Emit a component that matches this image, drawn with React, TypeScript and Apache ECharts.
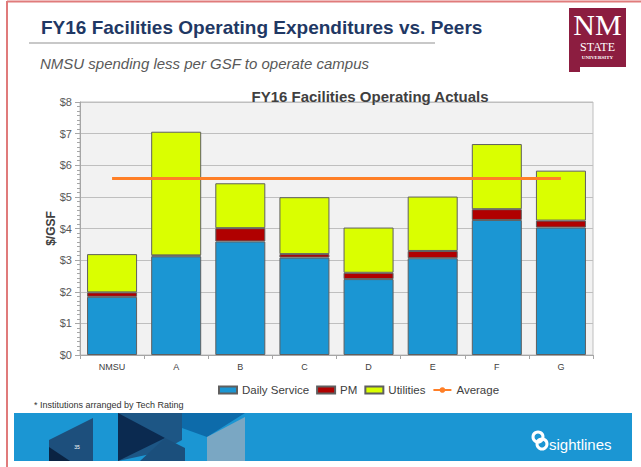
import React, { useEffect, useRef } from "react";
import * as echarts from "echarts";

const categories = ["NMSU", "A", "B", "C", "D", "E", "F", "G"];
const dailyService = [1.84, 3.12, 3.59, 3.08, 2.4, 3.06, 4.27, 4.03];
const pm = [0.14, 0.03, 0.42, 0.11, 0.2, 0.23, 0.34, 0.22];
const utilities = [1.21, 3.91, 1.42, 1.8, 1.43, 1.72, 2.06, 1.58];
const averageValue = 5.58;
const average = categories.map(() => averageValue);

const FONT = "'Liberation Sans', Arial, sans-serif";
const SERIF = "'Liberation Serif', 'DejaVu Serif', serif";

export default function App() {
  const ref = useRef<HTMLDivElement>(null);
  useEffect(() => {
    if (!ref.current) return;
    const chart = echarts.init(ref.current, undefined, { renderer: "svg" });
    const barItem = (color: string) => ({
      color,
      borderColor: "#5f5f5f",
      borderWidth: 1,
    });
    chart.setOption({
      animation: false,
      backgroundColor: "#ffffff",
      textStyle: { fontFamily: FONT },
      title: [
        {
          text: "FY16 Facilities Operating Expenditures vs. Peers",
          left: 36,
          top: 13,
          textStyle: { fontSize: 19, fontWeight: "bold", color: "#1F3864", fontFamily: FONT },
        },
        {
          text: "NMSU spending less per GSF to operate campus",
          left: 35,
          top: 51,
          textStyle: { fontSize: 15, fontWeight: "normal", fontStyle: "italic", color: "#595959", fontFamily: FONT },
        },
        {
          text: "FY16 Facilities Operating Actuals",
          left: 365,
          textAlign: "center",
          top: 84,
          textStyle: { fontSize: 15, fontWeight: "bold", color: "#404040", fontFamily: FONT },
        },
      ],
      legend: {
        left: 213,
        top: 379,
        itemWidth: 18,
        itemHeight: 7,
        itemGap: 7,
        textStyle: { fontSize: 11.5, color: "#404040", fontFamily: FONT },
        data: [
          { name: "Daily Service", icon: "rect" },
          { name: "PM", icon: "rect" },
          { name: "Utilities", icon: "rect" },
          { name: "Average" },
        ],
      },
      grid: {
        left: 80,
        top: 102,
        width: 513,
        height: 253,
        show: true,
        backgroundColor: "#F2F2F2",
        borderColor: "#BFBFBF",
        borderWidth: 1,
      },
      xAxis: {
        type: "category",
        data: categories,
        axisLine: { show: true, lineStyle: { color: "#A6A6A6", width: 1 } },
        axisTick: { show: true, length: 4, interval: 0, lineStyle: { color: "#A6A6A6" } },
        axisLabel: { fontSize: 9, color: "#404040", margin: 7, fontFamily: FONT },
      },
      yAxis: {
        type: "value",
        min: 0,
        max: 8,
        interval: 1,
        name: "$/GSF",
        nameLocation: "middle",
        nameGap: 23,
        nameMoveOverlap: false,
        nameTextStyle: { fontSize: 12, fontWeight: "bold", color: "#404040", fontFamily: FONT },
        axisLine: { show: true, lineStyle: { color: "#A6A6A6", width: 1 } },
        axisTick: { show: true, length: 5, lineStyle: { color: "#A6A6A6" } },
        minorTick: { show: true, splitNumber: 7, length: 3, lineStyle: { color: "#A6A6A6" } },
        axisLabel: { fontSize: 11, color: "#595959", formatter: "${value}", fontFamily: FONT, margin: 8 },
        splitLine: { show: true, lineStyle: { color: "#BFBFBF", width: 1.2 } },
      },
      series: [
        { name: "Daily Service", type: "bar", stack: "total", barWidth: "78%", data: dailyService, itemStyle: barItem("#1B96D3") },
        { name: "PM", type: "bar", stack: "total", data: pm, itemStyle: barItem("#B00000") },
        { name: "Utilities", type: "bar", stack: "total", data: utilities, itemStyle: barItem("#DAFF00") },
        {
          name: "Average",
          type: "line",
          data: average,
          symbol: "none",
          z: 5,
          itemStyle: { color: "#FF7F27" },
          lineStyle: { color: "#FF7F27", width: 3 },
        },
      ],
      graphic: [
        // slide border
        { type: "line", shape: { x1: 7, y1: 1, x2: 7, y2: 467 }, style: { stroke: "#E07B7B", lineWidth: 2 } },
        { type: "line", shape: { x1: 7, y1: 1.5, x2: 641, y2: 1.5 }, style: { stroke: "#E07B7B", lineWidth: 2 } },
        // title underline
        { type: "line", shape: { x1: 29, y1: 43, x2: 435, y2: 43 }, style: { stroke: "#C8C8C8", lineWidth: 2 } },
        // NM State logo
        {
          type: "polygon",
          shape: { points: [[569, 8], [626, 8], [626, 67], [580, 67], [580, 72], [569, 72]] },
          style: { fill: "#8C1D40" },
        },
        { type: "text", x: 597.5, y: 24, style: { text: "NM", fill: "#fff", font: "30px " + SERIF, textAlign: "center", textVerticalAlign: "middle" } },
        { type: "text", x: 597.5, y: 47, style: { text: "STATE", fill: "#fff", font: "12px " + SERIF, textAlign: "center", textVerticalAlign: "middle" } },
        { type: "text", x: 597.5, y: 57, style: { text: "UNIVERSITY", fill: "#fff", font: "bold 5px " + SERIF, textAlign: "center", textVerticalAlign: "middle" } },
        // footnote
        { type: "text", x: 34, y: 400, style: { text: "* Institutions arranged by Tech Rating", fill: "#333333", font: "9px " + FONT } },
        // footer band
        { type: "rect", shape: { x: 14, y: 413, width: 618, height: 48 }, style: { fill: "#1B96D3" } },
        { type: "polygon", shape: { points: [[49, 440], [93, 418], [93, 461], [49, 461]] }, style: { fill: "#1D4F7C" } },
        { type: "polygon", shape: { points: [[49, 447], [70, 461], [49, 461]] }, style: { fill: "#0A2342" } },
        { type: "text", x: 77, y: 444, style: { text: "35", fill: "#ffffff", font: "5px " + FONT, textAlign: "center" } },
        { type: "polygon", shape: { points: [[118, 413], [182, 413], [182, 440], [160, 452], [118, 461]] }, style: { fill: "#1D5685" } },
        { type: "polygon", shape: { points: [[118, 413], [165, 438], [118, 461]] }, style: { fill: "#0B2A50" } },
        { type: "polygon", shape: { points: [[140, 461], [165, 438], [185, 448], [185, 461]] }, style: { fill: "#1B4F7C" } },
        { type: "polygon", shape: { points: [[182, 413], [245, 413], [207, 437], [182, 428]] }, style: { fill: "#0D6BAA" } },
        { type: "polygon", shape: { points: [[207, 437], [245, 417], [245, 461], [207, 461]] }, style: { fill: "#7AA7C3" } },
        // sightlines logo
        { type: "circle", shape: { cx: 538, cy: 437, r: 5 }, style: { fill: "none", stroke: "#ffffff", lineWidth: 3 } },
        { type: "circle", shape: { cx: 542, cy: 444, r: 5 }, style: { fill: "none", stroke: "#ffffff", lineWidth: 3 } },
        { type: "text", x: 549, y: 437, style: { text: "sightlines", fill: "#ffffff", font: "15px " + FONT } },
      ],
    });
    return () => chart.dispose();
  }, []);
  return <div ref={ref} style={{ position: "absolute", left: 0, top: 0, width: 641, height: 467 }} />;
}
